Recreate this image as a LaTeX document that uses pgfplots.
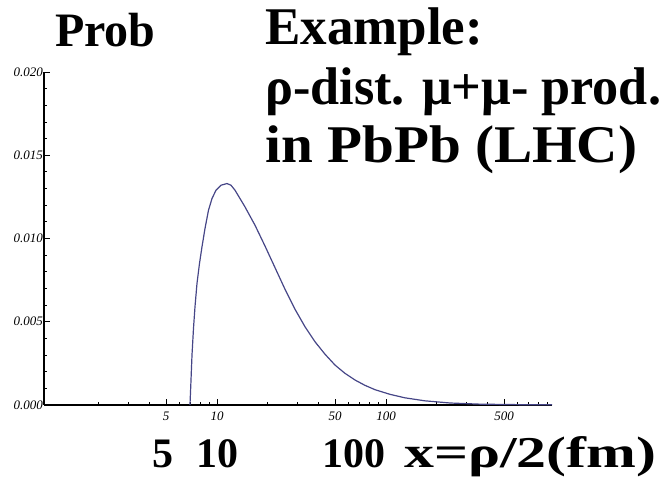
\documentclass[border=0pt]{standalone}
\usepackage{pgfplots}
\pgfplotsset{compat=1.18}
\usepackage{fontspec}
\setmainfont{Liberation Serif}
\definecolor{curve}{RGB}{70,70,135}
\begin{document}
\begin{tikzpicture}[x=1pt,y=1pt]
\path[use as bounding box] (0,0) rectangle (672,481);
\begin{axis}[
  at={(44pt,76pt)}, anchor=south west,
  scale only axis, width=508pt, height=333pt,
  xmode=log, xmin=0.947, xmax=960, ymin=0, ymax=0.020,
  axis lines*=left,
  axis line style={black, line width=1.1pt},
  xtick={5,10,50,100,500}, xticklabels={5,10,50,100,500},
  minor xtick={2,3,4,6,7,8,9,20,30,40,60,70,80,90,200,300,400,600,700,800,900},
  ytick={0,0.005,0.01,0.015,0.02},
  yticklabels={0.000,0.005,0.010,0.015,0.020},
  minor ytick={0.001,0.002,0.003,0.004,0.006,0.007,0.008,0.009,0.011,0.012,0.013,0.014,0.016,0.017,0.018,0.019},
  scaled y ticks=false,
  tick align=inside, major tick length=6pt, minor tick length=3pt,
  every tick/.style={black, line width=0.8pt},
  ticklabel style={font=\fontsize{13}{13}\selectfont\itshape},
  yticklabel style={inner sep=1pt},
  xticklabel style={inner sep=2pt, yshift=-5pt},
  clip=false,
]
\addplot[curve, line width=1.2pt] coordinates {
(6.921,0) (7.018,0.0015) (7.114,0.0030) (7.260,0.0046) (7.410,0.0059)
(7.615,0.0073) (7.878,0.0085) (8.151,0.0095) (8.492,0.0106) (8.906,0.0117)
(9.342,0.0124) (9.865,0.0129) (10.56,0.0132) (11.46,0.0133) (12.10,0.0132)
(12.78,0.0129) (14.64,0.0119) (16.78,0.0108) (19.23,0.00955) (22.04,0.00825)
(25.26,0.00695) (28.94,0.00575) (33.17,0.0047) (38.01,0.0038) (43.56,0.00305)
(49.91,0.0024) (57.20,0.0019) (65.55,0.0015) (75.11,0.00118) (86.07,0.00092)
(105.6,0.00064) (129.5,0.00043) (170.1,0.00025) (239.1,0.00012) (359.9,0.00005)
(620.8,0.00002) (960,0.00001)
};
\end{axis}
\node[anchor=base west, inner sep=0, font=\fontsize{48}{48}\selectfont\bfseries] at (55,434) {Prob};
\node[anchor=base west, inner sep=0, font=\fontsize{53}{53}\selectfont\bfseries] at (265,436) {Example:};
\node[anchor=base west, inner sep=0, font=\fontsize{53}{53}\selectfont\bfseries] at (265,376) {\scalebox{0.985}[1]{ρ-dist. μ+μ- prod.}};
\node[anchor=base west, inner sep=0, font=\fontsize{53}{53}\selectfont\bfseries] at (265,318) {\scalebox{1.08}[1]{in PbPb (LHC)}};
\node[anchor=base west, inner sep=0, font=\fontsize{42}{42}\selectfont\bfseries] at (152,13) {5};
\node[anchor=base west, inner sep=0, font=\fontsize{42}{42}\selectfont\bfseries] at (196,13) {10};
\node[anchor=base west, inner sep=0, font=\fontsize{42}{42}\selectfont\bfseries] at (322,13) {100};
\node[anchor=base west, inner sep=0, font=\fontsize{44}{44}\selectfont\bfseries] at (404,13) {\scalebox{1.36}[1]{x=ρ/2(fm)}};
\end{tikzpicture}
\end{document}
